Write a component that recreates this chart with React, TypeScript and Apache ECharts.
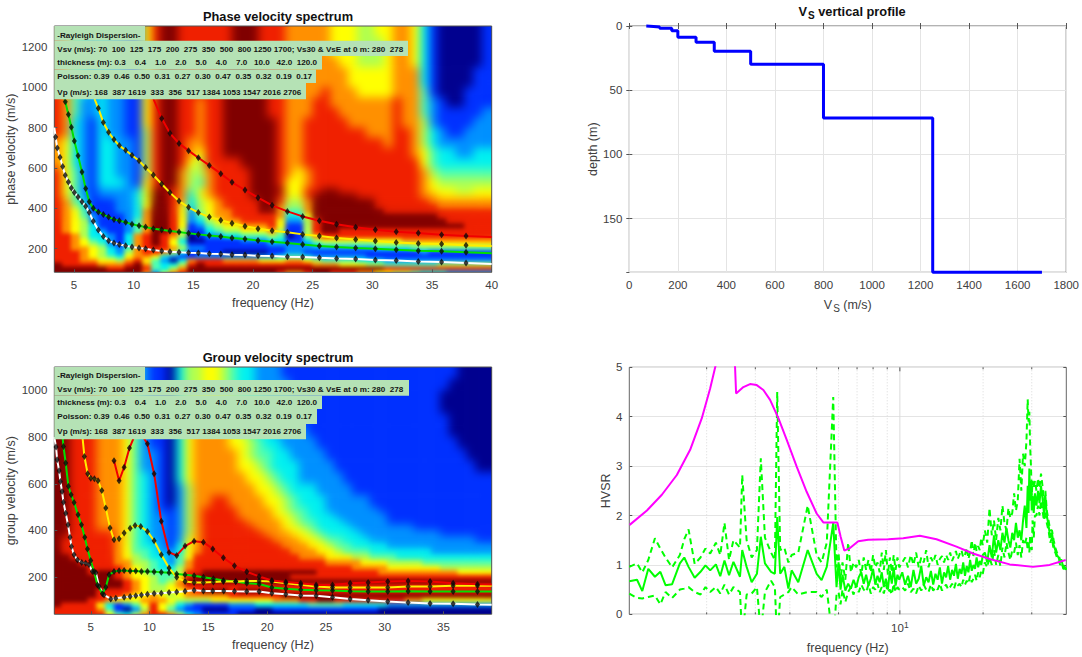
import React, { useEffect, useRef } from "react";
import * as echarts from "echarts";

const FONT = "Liberation Sans";
const JET = ["#00008f", "#0030ff", "#0090ff", "#00f0f0", "#50ffb0", "#b0ff50", "#ffff00", "#ff9000", "#f02000", "#800000"];

// ---- phase spectrum (level 0-9 read by eye, row by row, top to bottom)
const phaseFreqEdges = [3.25,4,4.75,5.5,6.25,7,7.75,8.5,9.25,10,10.75,11.5,12.25,13,13.75,14.5,15.25,16,16.75,17.5,18.25,19,19.75,20.5,21.25,22,22.75,23.5,24.25,25,25.75,26.5,27.25,28,28.75,29.5,30.25,31,31.75,32.5,33.25,34,34.75,35.5,36.25,37,37.75,38.5,39.25,40];
const phaseVelEdges = [1300,1250,1200,1150,1100,1050,1000,950,900,850,800,750,700,650,600,550,500,475,450,425,400,375,350,325,300,275,250,230,210,190,170,150,130,110,90,70];
const phaseLevels = [
"87432322116 8998888889 9988877777 6665566776 31000001",
"87432322116 8998888889 9988877777 6665556776 31000001",
"87432322116 8998888889 9988877777 6665556776 31000001",
"87432322116 8998888899 9988877777 7665556776 31000001",
"87432322116 8998888899 9988877777 7766666777 31000011",
"87432322116 8998888899 9998877777 7766666777 31000011",
"87432322116 8998888899 9998877778 7776666777 41000111",
"87422322116 8998878899 9998877788 7777777877 42100111",
"87422322116 8998878899 9998877788 8777777877 42111112",
"87321322116 8998878899 9999877888 8877777877 52111122",
"87321322115 8998878899 9999877888 8888777887 53211222",
"76321332215 8998778899 9999877888 8888887887 53222222",
"76321332215 8998768899 9999877888 8888888887 64332233",
"76321332215 8998658888 9999877888 8888888888 64333333",
"86421332215 8997557888 8999876788 8888888888 75444444",
"86421333216 8997547888 8999866788 8888888888 76555555",
"86421222236 9987467888 8999966889 9888888888 76665566",
"86421222236 9987367888 8999866899 9998888888 77666666",
"87431112236 9987356788 8899855799 9999988888 87777777",
"87531112236 9986356788 8899755799 9999988888 88777777",
"87641112237 9986256778 8899744799 9999998888 88888888",
"87642111237 9986246778 8888733699 9999999999 99888888",
"87652111247 9986235677 8888622589 9999999999 99988888",
"87653111247 9986124566 7778611589 9999999999 99999888",
"87653211247 9985113455 6667511589 9888888888 88888888",
"88753321378 9875012233 4445401578 8888888888 88888888",
"88764321378 9863001111 2223311356 6666666677 77777777",
"88765421378 9864111111 1112222234 4444455555 66666666",
"88776532478 8875221111 1111122222 2222233334 44444444",
"88876532578 8753111100 0001122111 1111111111 21111111",
"88876543677 6321122222 2222344322 2222111111 11111111",
"88877665786 4203788877 7766677654 4443332222 22222222",
"98888777897 4335898888 8888888877 7666554444 44555555",
"99999988998 4357999999 9999999999 9999998888 88888888",
"99999999997 2578999999 9999877899 8887766554 33322222",
];

// ---- group spectrum
const groupFreqEdges = [1.75,2.5,3.25,4,4.75,5.5,6.25,7,7.75,8.5,9.25,10,10.75,11.5,12.25,13,13.75,14.5,15.25,16,16.75,17.5,18.25,19,19.75,20.5,21.25,22,22.75,23.5,24.25,25,25.75,26.5,27.25,28,28.75,29.5,30.25,31,31.75,32.5,33.25,34,34.75,35.5,36.25,37,37.75,38.5,39.25];
const groupVelEdges = [1100,1050,1000,950,900,850,800,750,700,650,600,550,500,475,450,425,400,375,350,325,300,275,250,230,210,190,170,150,130,110,90,70,50,30];
const groupLevels = [
"9988877764 2110355665 4332221111 1111111111 1111110000",
"9988877764 2110355665 4332222111 1111111111 1111100000",
"9988877764 2110356666 5433222111 1111111111 1111000000",
"9988877764 2110356666 5433222211 1111111111 1111000000",
"9988877764 2110356776 5443322211 1111111111 1111100000",
"9988877764 2110367777 6543322221 1111111111 1111100000",
"9988877764 2110367777 6654332222 1111111111 1111110000",
"9988877764 2210367777 7654433222 2111111111 1111111000",
"9988877764 2210367777 7665433322 2211111111 1111111100",
"9988877764 3210367777 7766543322 2221111111 1111111111",
"9988877764 3210257777 7776654333 2222111111 1111111111",
"9988877764 3210257788 7777665433 3222221111 1111111111",
"9988877764 3211257888 8777765443 3222222111 1111111111",
"9988877764 3221257888 8777766543 3322222211 1111111111",
"9988877764 3221257888 8877776544 3332222211 1111111111",
"9988877764 3221257888 8887776654 3333222222 2111111111",
"9988888764 3221257888 8888777665 4333322222 2222111111",
"9888888764 3221267888 8888877766 5443332222 2222222211",
"9888888764 3321367888 8888887776 6544333322 2222222222",
"9888888764 4322367888 8888888777 6654443333 3332222222",
"9988888765 4332468888 8888888877 7666554443 3333333333",
"9998888775 5432478888 8888888888 8777766655 5544444444",
"9999888876 5433578888 8888888888 8888777766 6666555555",
"9999899876 5444588999 9999999999 8888888777 7777776666",
"9999999876 6544689999 9999999888 8888888888 8888888888",
"9999999987 6545799999 9999999999 9999999999 9999999999",
"9999999987 6556788888 8888888888 8888888888 8888888888",
"9999988887 6556678999 8999998888 8888888888 8888888888",
"9999988876 6765677777 8888889999 9999999999 9999999999",
"9999887666 7776555566 6666677788 9988888888 7766666666",
"9888863124 6865321111 2223333334 4443333322 2222222222",
"8888874102 5864211000 1110011111 1111111000 0000000000",
"8888886435 7887532111 1000000000 0000000000 0000000000",
];

// ---- phase velocity curves [frequency, velocity]
const phaseRed = [[12.35,846],[13.04,772],[13.8,722],[14.6,686],[15.42,651],[16.34,613],[17.3,572],[18.24,529],[19.33,491],[20.42,453],[21.6,415],[22.88,385],[24.16,360],[25.56,339],[27,321],[28.6,306],[30.25,294],[32,284],[33.85,278],[35.8,269],[37.85,263]];
const phaseYellow = [[7.04,896],[7.46,826],[7.9,777],[8.35,741],[8.8,711],[9.33,688],[9.86,663],[10.45,636],[11,602],[11.65,565],[12.35,521],[13.04,478],[13.8,436],[14.6,405],[15.42,379],[16.34,357],[17.3,341],[18.24,326],[19.33,311],[20.42,299],[21.6,289],[22.88,281],[24.16,271],[25.56,263],[27,253],[28.6,245],[30.25,238],[32,231],[33.85,226],[35.8,223],[37.85,217]];
const phaseGreen = [[4.27,929],[4.53,865],[4.78,802],[5.03,734],[5.34,661],[5.67,580],[5.98,498],[6.28,433],[6.62,400],[7.04,382],[7.46,369],[7.9,357],[8.35,345],[8.8,339],[9.33,331],[9.86,321],[10.45,314],[11,307],[11.65,299],[12.35,294],[13.04,288],[13.8,283],[14.6,276],[15.42,271],[16.34,266],[17.3,260],[18.24,253],[19.33,248],[20.42,241],[21.6,235],[22.88,228],[24.16,221],[25.56,213],[27,208],[28.6,203],[30.25,200],[32,195],[33.85,190],[35.8,187],[37.85,183]];
const phaseWhite = [[3.46,754],[3.6,699],[3.83,653],[4.05,607],[4.27,564],[4.53,531],[4.78,501],[5.03,479],[5.34,456],[5.67,433],[5.98,410],[6.28,379],[6.62,336],[7.04,293],[7.46,261],[7.9,240],[8.35,228],[8.8,221],[9.33,215],[9.86,208],[10.45,203],[11,200],[11.65,193],[12.35,188],[13.04,185],[13.8,183],[14.6,180],[15.42,179],[16.34,175],[17.3,174],[18.24,170],[19.33,169],[20.42,165],[21.6,164],[22.88,160],[24.16,159],[25.56,155],[27,152],[28.6,149],[30.25,144],[32,142],[33.85,137],[35.8,134],[37.85,129]];

// ---- group velocity curves [frequency, velocity]
const groupRed = [[6.98,699],[7.41,613],[7.84,671],[8.29,753],[8.77,810],[9.34,810],[9.82,771],[10.39,643],[11,439],[11.66,306],[12.31,293],[13.02,333],[13.79,354],[14.58,350],[15.38,321],[16.28,283],[17.22,249],[18.27,223],[19.32,203],[20.4,186],[21.59,179],[22.86,174],[24.17,167],[25.56,167],[27.06,174],[28.59,177],[30.26,181],[31.99,184],[33.86,181],[35.82,174],[37.89,170]];
const groupYellow = [[4.46,717],[4.74,643],[5,624],[5.31,621],[5.62,613],[5.94,571],[6.28,496],[6.64,411],[6.98,360],[7.41,364],[7.84,389],[8.35,410],[8.77,421],[9.25,417],[9.82,396],[10.39,356],[11,296],[11.66,239],[12.31,200],[13.02,181],[13.79,177],[14.58,177],[15.43,179],[16.28,181],[17.33,181],[18.27,184],[19.32,184],[20.4,181],[21.59,174],[22.86,167],[24.17,160],[25.56,156],[27.06,156],[28.59,156],[30.26,156],[31.99,160],[33.86,160],[35.82,163],[37.89,163]];
const groupGreen = [[2.68,760],[2.87,689],[3.1,589],[3.33,553],[3.58,520],[3.92,467],[4.21,424],[4.49,371],[4.72,321],[5,271],[5.28,224],[5.57,167],[5.99,129],[6.28,157],[6.56,210],[6.98,224],[7.41,227],[7.84,229],[8.35,226],[8.83,226],[9.31,224],[9.82,224],[10.39,223],[11,221],[11.66,219],[12.31,214],[13.02,210],[13.79,206],[14.58,200],[15.43,193],[16.28,186],[17.33,181],[18.27,174],[19.32,171],[20.4,156],[21.59,150],[22.86,146],[24.17,144],[25.56,143],[27.06,140],[28.59,139],[30.26,139],[31.99,140],[33.86,139],[35.82,139],[37.89,139]];
const groupWhite = [[2.05,757],[2.14,703],[2.31,656],[2.42,610],[2.56,567],[2.68,521],[2.87,474],[3.07,424],[3.24,371],[3.36,331],[3.58,296],[3.87,274],[4.23,263],[4.57,260],[4.86,253],[5.14,224],[5.43,220],[5.71,160],[6.13,124],[6.7,107],[7.13,110],[7.84,114],[8.35,117],[8.83,120],[9.31,124],[9.82,127],[10.39,130],[11,131],[11.66,134],[12.31,137],[13.02,140],[13.79,144],[14.58,141],[15.38,141],[16.31,141],[17.22,140],[18.27,139],[19.32,139],[20.4,131],[21.59,127],[22.86,121],[24.17,120],[25.56,114],[27.06,107],[28.59,101],[30.26,96],[31.99,91],[33.86,87],[35.82,86],[37.89,83]];

// curve stretches without a marker
const phaseTails = { red: [[[11.2,1040],[11.7,937]],[[40,258]]], yellow: [[[6.4,1050],[6.76,937]],[[40,213]]], green: [[[4,1000]],[[40,178]]], white: [[[3.35,800]],[[40,124]]] };
const groupTails = { red: [[],[[39.1,169]]], yellow: [[[4.2,820],[4.32,789]],[[39.1,163]]], green: [[[2.55,830]],[[39.1,139]]], white: [[[1.9,800]],[[39.1,82]]] };

// ---- Vs profile
const vsValues = [70,100,125,175,200,275,350,500,800,1250,1700];
const thicknessValues = [0.3,0.4,1,2,5,4,7,10,42,120];

// ---- HVSR
const hvFreq = [1.05,1.12,1.17,1.23,1.30,1.36,1.42,1.50,1.60,1.66,1.72,1.81,1.90,1.98,2.06,2.16,2.24,2.32,2.41,2.50,2.64,2.69,2.79,2.91,3.04,3.14,3.25,3.42,3.53,3.60,3.69,3.82,3.95,4.06,4.29,4.64,5.0,5.21,5.44,5.74,
5.9,6.0,6.1,6.2,6.35,6.5,6.65,6.8,6.95,7.1,7.25,7.4,7.55,7.7,7.85,8.0,8.15,8.3,8.45,8.6,8.75,8.9,9.05,9.2,9.35,9.5,9.65,9.8,9.95,
10.2,10.45,10.7,10.95,11.2,11.45,11.7,11.95,12.2,12.45,12.7,12.95,13.2,13.45,13.7,13.95,14.2,14.45,14.7,14.95,15.2,15.45,15.7,15.95,16.2,16.45,16.7,16.95,17.2,17.45,17.7,17.95,18.2,18.45,18.7,18.95,19.2,19.45,19.7,19.95,
20.3,20.7,21.1,21.5,21.9,22.3,22.7,23.1,23.5,23.9,24.3,24.7,25.1,25.5,25.9,26.3,26.7,27.1,27.5,27.9,28.3,28.7,29.0,29.2,29.4,29.6,29.8,30.0,30.2,30.5,30.8,31.2,31.6,32.0,32.4,32.8,33.2,33.6,34.0,34.5,35.0,35.5,36.0,36.5,37.0,37.5,38,38.5,39,39.5,40];
const hvMean = [.67,.70,.47,.92,.76,.86,.59,.61,1.03,1.15,.96,.74,.86,.99,.89,1.01,.77,1.09,.79,1.06,.76,1.30,.96,.65,.82,1.57,1.03,.86,.82,1.97,.82,.96,.52,.89,.65,1.30,.82,.69,.96,1.85,
.55,1.05,.50,.80,.48,.62,.52,.70,.55,.75,.85,.62,.80,.58,.72,.92,.60,.78,.65,.85,.55,.72,.50,.88,.62,.95,.58,.80,.70,
.85,.60,.78,.55,.90,.62,.72,.98,.58,.75,.65,.88,.60,.82,.70,.95,.62,.85,.75,.98,.70,.90,.78,1.02,.72,.92,.82,1.05,.78,.98,.85,1.10,.88,1.0,.92,1.15,.95,1.08,1.0,1.2,
1.25,1.05,1.4,1.15,1.6,1.25,1.5,1.3,1.65,1.45,1.75,1.5,1.35,1.65,1.5,1.85,1.55,1.7,1.5,1.9,2.2,1.75,2.6,2.05,2.95,2.3,2.7,2.1,2.4,2.05,2.45,2.2,2.5,2.25,2.6,2.35,2.05,2.4,2.0,1.8,1.55,1.65,1.4,1.3,1.2,1.15,1.05,1.08,.95,.95,.90];
const hvUpper = [.96,1.03,.85,1.10,1.54,1.33,1.15,.95,1.20,1.52,1.72,1.02,1.15,1.33,1.23,1.45,1.20,1.85,1.10,1.50,1.35,2.82,1.50,1.15,1.30,3.16,1.55,1.25,1.10,4.50,1.30,1.35,1.05,1.20,1.25,2.20,1.20,1.05,1.45,4.40,
.95,1.25,.70,1.05,.70,1.45,.85,1.05,.95,1.10,.80,1.15,.90,1.10,.85,1.20,.95,1.05,.85,1.25,.90,1.30,.80,1.15,.85,1.20,.90,1.15,.95,
1.05,1.15,.95,1.20,1.0,1.25,.95,1.15,1.05,1.3,.95,1.15,1.05,1.2,1.0,1.12,1.18,1.05,1.2,1.1,1.25,1.08,1.18,1.28,1.12,1.22,1.3,1.15,1.2,1.35,1.12,1.25,1.5,1.18,1.45,1.28,1.38,1.3,1.55,1.4,
1.7,1.45,2.15,1.6,1.9,1.5,1.95,1.7,2.2,1.85,1.7,2.15,1.95,2.05,2.45,2.1,2.3,3.15,2.5,3.25,3.0,3.5,4.35,3.9,4.1,3.4,3.0,2.4,2.7,2.55,2.7,2.5,2.75,2.55,2.85,2.6,2.3,2.5,2.1,1.9,1.7,1.7,1.5,1.35,1.25,1.2,1.1,1.1,1.0,.95,.9];
const hvLower = [.42,.33,.32,.35,.38,.20,.45,.33,.50,.52,.55,.45,.40,.55,.45,.55,.42,.60,.40,.55,.45,-.5,.40,.42,.55,-.4,.45,.68,.55,-.6,.35,.40,.45,.55,.40,.45,.45,.35,.50,-.6,
.40,.45,.20,.50,.25,.45,.55,.40,.60,.45,.60,.50,.45,.60,.42,.55,.50,.62,.45,.55,.42,.60,.45,.50,.40,.62,.45,.55,.50,
.55,.48,.62,.45,.52,.42,.58,.48,.60,.50,.45,.60,.48,.55,.50,.62,.48,.55,.60,.50,.55,.62,.52,.65,.58,.62,.55,.70,.60,.68,.62,.78,.65,.72,.80,.68,.85,.75,.88,.82,
1.05,.95,1.15,1.0,1.3,1.0,1.2,.98,1.35,1.15,1.45,1.25,1.1,1.3,1.25,1.45,1.2,1.4,1.15,1.5,1.4,1.55,1.3,1.5,1.25,1.6,1.4,1.3,1.9,1.55,2.0,2.0,2.2,2.0,2.3,2.1,1.9,2.2,1.85,1.7,1.45,1.55,1.3,1.25,1.15,1.1,1.0,1.05,.92,.92,.88];
const hvFit = [[1.053,1.81],[1.216,2.10],[1.377,2.42],[1.56,2.82],[1.743,3.33],[1.921,3.97],[2.059,4.57],[2.164,5.08],[2.237,5.9],[2.332,6.4],[2.465,5.6],[2.534,5.0],[2.556,4.47],[2.716,4.60],[2.871,4.66],[3.035,4.64],[3.208,4.54],[3.392,4.34],[3.635,3.97],[3.897,3.53],[4.234,2.99],[4.6,2.48],[5.0,2.04],[5.285,1.86],[5.94,1.86],[6.106,1.57],[6.295,1.29],[6.6,1.34],[7.07,1.48],[7.68,1.51],[9.08,1.52],[10.28,1.54],[11.81,1.59],[13.57,1.52],[16.02,1.37],[18.4,1.23],[21.14,1.12],[24.97,1.01],[30.3,.96],[34.8,1.0],[39.8,1.10]];
const hvMinorFreq = [2,3,4,5,6,7,8,9,20,30];

// ---- annotation
const annotationLines = [
  "-Rayleigh Dispersion-",
  "Vsv (m/s): 70  100  125  175  200  275  350  500  800 1250 1700; Vs30 & VsE at 0 m: 280  278",
  "thickness (m): 0.3    0.4    1.0    2.0    5.0    4.0    7.0   10.0   42.0  120.0",
  "Poisson: 0.39  0.46  0.50  0.31  0.27  0.30  0.47  0.35  0.32  0.19  0.17",
  "Vp (m/s): 168  387 1619  333  356  517 1384 1053 1547 2016 2706",
];
const phaseTicksX = [5,10,15,20,25,30,35,40];
const phaseTicksY = [200,400,600,800,1000,1200];
const groupTicksX = [5,10,15,20,25,30,35];
const groupTicksY = [200,400,600,800,1000];

const P1 = { left: 54.3, top: 26, width: 437.4, height: 246.3 };
const P2 = { left: 629.3, top: 26, width: 437, height: 246.3 };
const P3 = { left: 54.3, top: 367, width: 437.4, height: 247.3 };
const P4 = { left: 629.3, top: 367.3, width: 437, height: 247 };

const PAD = 16;

function HeatLayer({ rect, xRange, yRange, xEdges, yEdges, rows, blur, fadeFrom, fadeTo }: any) {
  const ref = useRef<HTMLDivElement>(null);
  useEffect(() => {
    const chart = echarts.init(ref.current!, null, { renderer: "svg" });
    const data: number[][] = [];
    rows.forEach((row: string, r: number) => {
      row.replace(/ /g, "").split("").forEach((ch, c) => {
        data.push([xEdges[c], xEdges[c + 1], yEdges[r], yEdges[r + 1], Number(ch), c, r]);
      });
    });
    const nC = xEdges.length - 2;
    const nR = rows.length - 1;
    chart.setOption({
      animation: false,
      grid: { left: PAD, top: PAD, right: PAD, bottom: PAD },
      xAxis: { type: "value", min: xRange[0], max: xRange[1], show: false },
      yAxis: { type: "value", min: yRange[0], max: yRange[1], show: false },
      series: [{
        type: "custom",
        clip: false,
        silent: true,
        progressive: 0,
        encode: { x: 0, y: 2 },
        data,
        renderItem: (_p: any, api: any) => {
          const a = api.coord([api.value(0), api.value(2)]);
          const b = api.coord([api.value(1), api.value(3)]);
          const c = api.value(5);
          const r = api.value(6);
          const x0 = a[0] - (c === 0 ? PAD + 30 : 0);
          const x1 = b[0] + (c === nC ? PAD + 30 : 0.6);
          const y0 = a[1] - (r === 0 ? PAD + 30 : 0);
          const y1 = b[1] + (r === nR ? PAD + 30 : 0.6);
          return {
            type: "rect",
            shape: { x: x0, y: y0, width: x1 - x0, height: y1 - y0 },
            style: { fill: JET[api.value(4)] },
          };
        },
      }],
    });
    return () => chart.dispose();
  }, []);
  const mask = fadeFrom === undefined ? undefined : `linear-gradient(to bottom, transparent ${fadeFrom}px, black ${fadeTo}px)`;
  return (
    <div style={{ position: "absolute", left: rect.left, top: rect.top, width: rect.width, height: rect.height, overflow: "hidden", WebkitMaskImage: mask, maskImage: mask }}>
      <div ref={ref} style={{ position: "absolute", left: -PAD, top: -PAD, width: rect.width + 2 * PAD, height: rect.height + 2 * PAD, filter: `blur(${blur}px)` }} />
    </div>
  );
}

const tickColor = "#404040";
const plainNumber = (v: number) => String(v);
const labelStyle = { color: tickColor, fontFamily: FONT, fontSize: 11.5 };
const nameStyle = { color: tickColor, fontFamily: FONT, fontSize: 12.5 };
const tickIn = { inside: true, length: 3, lineStyle: { color: "#555", width: 1 } };
const gridLine = { show: true, lineStyle: { color: "#e4e4e4", width: 1 } };

function specAxisX(gridIndex: number, min: number, max: number, ticks: number[]) {
  return {
    type: "value", gridIndex, min, max, name: "frequency (Hz)", nameLocation: "middle", nameGap: 24, nameTextStyle: nameStyle,
    axisLine: { show: false }, splitLine: { show: false },
    axisTick: { ...tickIn, customValues: ticks },
    axisLabel: { ...labelStyle, margin: 7, customValues: ticks, formatter: plainNumber },
  };
}
function specAxisY(gridIndex: number, min: number, max: number, ticks: number[], name: string) {
  return {
    type: "value", gridIndex, min, max, name, nameLocation: "middle", nameGap: 28, nameTextStyle: nameStyle,
    axisLine: { show: false }, splitLine: { show: false },
    axisTick: { ...tickIn, customValues: ticks },
    axisLabel: { ...labelStyle, margin: 7, customValues: ticks, formatter: plainNumber },
  };
}
function curveSeries(xAxisIndex: number, yAxisIndex: number, curves: any[], tails: any) {
  const out: any[] = [];
  curves.forEach(([key, pts, color]) => {
    out.push({
      type: "line", xAxisIndex, yAxisIndex, symbol: "none", silent: true, z: 3,
      data: [...tails[key][0], ...pts, ...tails[key][1]],
      lineStyle: { color, width: 2 },
    });
  });
  curves.forEach(([, pts]) => {
    out.push({
      type: "scatter", xAxisIndex, yAxisIndex, symbol: "diamond", symbolSize: [5, 7], silent: true, z: 4,
      data: pts, itemStyle: { color: "#0a0a0a" },
    });
  });
  return out;
}
function annotation(left: number, rowTops: number[], rights: number[], textYs: number[]) {
  const els: any[] = [];
  annotationLines.forEach((t, i) => {
    els.push({ type: "rect", z: 100, silent: true, shape: { x: left, y: rowTops[i], width: rights[i] - left, height: rowTops[i + 1] - rowTops[i] }, style: { fill: "#b5e2b5" } });
    els.push({ type: "text", z: 101, silent: true, x: left + 3, y: textYs[i], style: { text: t, fontFamily: FONT, fontSize: 8.1, fontWeight: "bold", fill: "#141414", verticalAlign: "middle" } });
  });
  return els;
}

export default function App() {
  const ref = useRef<HTMLDivElement>(null);
  useEffect(() => {
    const chart = echarts.init(ref.current!, null, { renderer: "svg" });
    const profile: number[][] = [];
    let depth = 0;
    vsValues.forEach((v, i) => {
      profile.push([v, depth]);
      depth += i < thicknessValues.length ? thicknessValues[i] : 0;
      if (i < thicknessValues.length) profile.push([v, depth]);
    });
    const zip = (ys: number[]) => hvFreq.map((f, i) => [f, ys[i]]);
    const titleStyle = { fontFamily: FONT, fontSize: 12.8, fontWeight: "bold", color: "#111" };
    const green = { color: "#00ff00", width: 2 };
    chart.setOption({
      animation: false,
      backgroundColor: "transparent",
      title: [
        { text: "Phase velocity spectrum", left: 273, top: 5, textAlign: "center", textStyle: titleStyle },
        { text: "Group velocity spectrum", left: 273, top: 346, textAlign: "center", textStyle: titleStyle },
        { text: "{a|V}{b|S}{a| vertical profile}", left: 847, top: -2, textAlign: "center", textStyle: { ...titleStyle, rich: { a: { ...titleStyle }, b: { ...titleStyle, fontSize: 10, padding: [7, 0, 0, 1] } } } },
      ],
      grid: [
        { ...P1, show: true, borderColor: "#555", borderWidth: 1, backgroundColor: "transparent" },
        { ...P2, show: true, borderColor: "#666", borderWidth: 1, backgroundColor: "transparent" },
        { ...P3, show: true, borderColor: "#555", borderWidth: 1, backgroundColor: "transparent" },
        { ...P4, show: true, borderColor: "#666", borderWidth: 1, backgroundColor: "transparent" },
      ],
      xAxis: [
        specAxisX(0, 3.35, 40, phaseTicksX),
        { type: "value", gridIndex: 1, min: 0, max: 1800, interval: 200, position: "bottom", name: "{a|V}{b|S}{a| (m/s)}", nameLocation: "middle", nameGap: 24,
          nameTextStyle: { ...nameStyle, rich: { a: { ...nameStyle }, b: { ...nameStyle, fontSize: 10, padding: [7, 0, 0, 1] } } },
          axisLine: { show: false }, axisTick: tickIn, splitLine: gridLine, axisLabel: { ...labelStyle, margin: 7, formatter: plainNumber } },
        { type: "value", gridIndex: 1, min: 0, max: 1800, interval: 200, position: "top", axisLine: { show: false }, axisTick: tickIn, splitLine: { show: false }, axisLabel: { show: false } },
        specAxisX(2, 1.9, 39.1, groupTicksX),
        { type: "log", logBase: 10, gridIndex: 3, min: 1.05, max: 40, name: "frequency (Hz)", nameLocation: "middle", nameGap: 27, nameTextStyle: nameStyle,
          axisLine: { show: false }, splitLine: { show: false }, axisTick: { show: false },
          axisLabel: { ...labelStyle, margin: 6, showMinLabel: false, showMaxLabel: false,
            formatter: (v: number) => (Math.abs(v - 10) < 0.01 ? "10{s|1}" : ""),
            rich: { s: { ...labelStyle, fontSize: 8.5, padding: [0, 0, 7, 0] } } } },
      ],
      yAxis: [
        specAxisY(0, 83, 1304, phaseTicksY, "phase velocity (m/s)"),
        { type: "value", gridIndex: 1, min: 0, max: 191.7, interval: 50, inverse: true, position: "left", name: "depth (m)", nameLocation: "middle", nameGap: 26, nameTextStyle: nameStyle,
          axisLine: { show: false }, axisTick: tickIn, splitLine: gridLine, axisLabel: { ...labelStyle, margin: 7, showMaxLabel: false } },
        { type: "value", gridIndex: 1, min: 0, max: 191.7, interval: 50, inverse: true, position: "right", axisLine: { show: false }, axisTick: tickIn, splitLine: { show: false }, axisLabel: { show: false } },
        specAxisY(2, 41, 1100, groupTicksY, "group velocity (m/s)"),
        { type: "value", gridIndex: 3, min: 0, max: 5, interval: 1, position: "left", name: "HVSR", nameLocation: "middle", nameGap: 13, nameTextStyle: nameStyle,
          axisLine: { show: false }, axisTick: tickIn, splitLine: gridLine, axisLabel: { ...labelStyle, margin: 7 } },
        { type: "value", gridIndex: 3, min: 0, max: 5, interval: 1, position: "right", axisLine: { show: false }, axisTick: tickIn, splitLine: { show: false }, axisLabel: { show: false } },
      ],
      graphic: [
        ...annotation(54.3, [26, 40.7, 56, 69.5, 83, 99.3], [145, 408, 322, 316, 306], [35, 49, 62, 76, 92]),
        ...annotation(54.3, [367, 380, 395.7, 409, 424, 439.3], [145, 409, 322, 317, 306], [375.3, 389, 402, 416, 431.7]),
      ],
      series: [
        ...curveSeries(0, 0, [["white", phaseWhite, "#ffffff"], ["green", phaseGreen, "#00e000"], ["yellow", phaseYellow, "#ffee00"], ["red", phaseRed, "#f00000"]], phaseTails),
        ...curveSeries(3, 3, [["white", groupWhite, "#ffffff"], ["green", groupGreen, "#00e000"], ["yellow", groupYellow, "#ffee00"], ["red", groupRed, "#f00000"]], groupTails),
        { type: "line", xAxisIndex: 1, yAxisIndex: 1, symbol: "none", silent: true, clip: false, data: profile, lineStyle: { color: "#0000ff", width: 3 } },
        {
          type: "custom", xAxisIndex: 4, yAxisIndex: 4, silent: true, z: 1, encode: { x: 0 },
          data: [...hvMinorFreq.map((f) => [f, 0]), [10, 1]],
          renderItem: (_p: any, api: any) => {
            const major = api.value(1) === 1;
            const b = api.coord([api.value(0), 0]);
            const t = api.coord([api.value(0), 5]);
            const line = (y1: number, y2: number, stroke: string, dash?: number[]) => ({
              type: "line", shape: { x1: b[0], y1, x2: b[0], y2 },
              style: { stroke, lineWidth: 1, lineDash: dash },
            });
            return {
              type: "group",
              children: [
                line(b[1], t[1], major ? "#dcdcdc" : "#d8d8d8", major ? undefined : [1, 2]),
                line(b[1], b[1] - (major ? 4 : 2), "#555"),
                line(t[1], t[1] + (major ? 4 : 2), "#555"),
              ],
            };
          },
        },
        { type: "line", xAxisIndex: 4, yAxisIndex: 4, symbol: "none", silent: true, z: 3, data: zip(hvUpper), lineStyle: { ...green, type: [6, 4] } },
        { type: "line", xAxisIndex: 4, yAxisIndex: 4, symbol: "none", silent: true, z: 3, data: zip(hvLower), lineStyle: { ...green, type: [6, 4] } },
        { type: "line", xAxisIndex: 4, yAxisIndex: 4, symbol: "none", silent: true, z: 3, data: zip(hvMean), lineStyle: green },
        { type: "line", xAxisIndex: 4, yAxisIndex: 4, symbol: "none", silent: true, z: 4, data: hvFit, lineStyle: { color: "#ff00ff", width: 2 } },
      ],
    });
    return () => chart.dispose();
  }, []);
  return (
    <div style={{ position: "absolute", left: 0, top: 0, width: 1082, height: 657, background: "#fff" }}>
      <HeatLayer rect={P1} xRange={[3.35, 40]} yRange={[83, 1304]} xEdges={phaseFreqEdges} yEdges={phaseVelEdges} rows={phaseLevels} blur={5} />
      <HeatLayer rect={P1} xRange={[3.35, 40]} yRange={[83, 1304]} xEdges={phaseFreqEdges} yEdges={phaseVelEdges} rows={phaseLevels} blur={2} fadeFrom={170} fadeTo={205} />
      <HeatLayer rect={P3} xRange={[1.9, 39.1]} yRange={[41, 1100]} xEdges={groupFreqEdges} yEdges={groupVelEdges} rows={groupLevels} blur={5} />
      <HeatLayer rect={P3} xRange={[1.9, 39.1]} yRange={[41, 1100]} xEdges={groupFreqEdges} yEdges={groupVelEdges} rows={groupLevels} blur={2} fadeFrom={170} fadeTo={205} />
      <div ref={ref} style={{ position: "absolute", left: 0, top: 0, width: 1082, height: 657 }} />
    </div>
  );
}
